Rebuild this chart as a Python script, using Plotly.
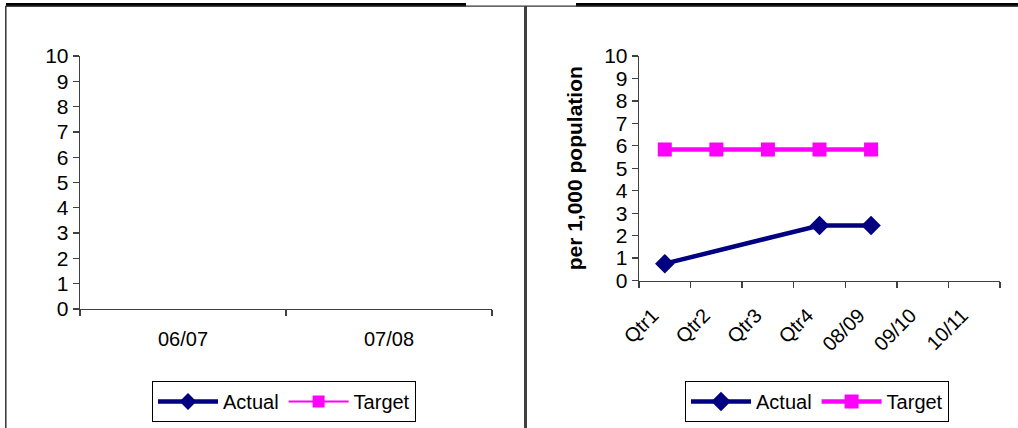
import plotly.graph_objects as go

# ---- data ----
left_categories = ["06/07", "07/08"]
left_actual = [None, None]
left_target = [None, None]

right_categories = ["Qtr1", "Qtr2", "Qtr3", "Qtr4", "08/09", "09/10", "10/11"]
right_actual = [0.75, None, None, 2.45, 2.45, None, None]
right_target = [5.83, 5.83, 5.83, 5.83, 5.83, None, None]

y_ticks = list(range(0, 11))

W, H = 1018, 428
NAVY = "#000080"
MAGENTA = "#FF00FF"
AXIS = "#404040"
FONT = "Liberation Sans, Arial, sans-serif"

def px(x):
    return x / W

def py(y):
    return 1 - y / H

fig = go.Figure()

# left chart
fig.add_trace(go.Scatter(x=left_categories, y=left_actual, name="Actual", mode="lines+markers",
                         line=dict(color=NAVY, width=4.5), marker=dict(symbol="diamond", size=13, color=NAVY),
                         xaxis="x", yaxis="y", legend="legend"))
fig.add_trace(go.Scatter(x=left_categories, y=left_target, name="Target", mode="lines+markers",
                         line=dict(color=MAGENTA, width=2), marker=dict(symbol="square", size=12, color=MAGENTA),
                         xaxis="x", yaxis="y", legend="legend"))

# right chart
fig.add_trace(go.Scatter(x=right_categories, y=right_actual, name="Actual", mode="lines+markers",
                         connectgaps=True,
                         line=dict(color=NAVY, width=4.5), marker=dict(symbol="diamond", size=15, color=NAVY),
                         xaxis="x2", yaxis="y2", legend="legend2"))
fig.add_trace(go.Scatter(x=right_categories, y=right_target, name="Target", mode="lines+markers",
                         connectgaps=True,
                         line=dict(color=MAGENTA, width=4.5), marker=dict(symbol="square", size=14, color=MAGENTA),
                         xaxis="x2", yaxis="y2", legend="legend2"))

xtickfont = dict(family=FONT, size=20, color="black")
ytickfont = dict(family=FONT, size=21, color="black")

common_x = dict(type="category", showgrid=False, zeroline=False, showline=True, linecolor=AXIS, linewidth=1.3,
                ticks="outside", ticklen=6, tickcolor=AXIS, tickwidth=1.3, tickson="boundaries",
                tickfont=xtickfont, fixedrange=True, automargin=False)
common_y = dict(range=[0, 10], tickvals=y_ticks, showgrid=False, zeroline=False, showline=True, linecolor=AXIS,
                linewidth=1.3, ticks="outside", ticklen=6, tickcolor=AXIS, tickwidth=1.3, tickfont=ytickfont,
                fixedrange=True, automargin=False)

legend_style = dict(orientation="h", xanchor="left", yanchor="top",
                    bordercolor="black", borderwidth=1, bgcolor="white",
                    font=dict(family=FONT, size=20, color="black"), itemwidth=60,
                    traceorder="normal")

fig.update_layout(
    width=W, height=H,
    margin=dict(l=0, r=0, t=0, b=0, pad=0, autoexpand=False),
    paper_bgcolor="white", plot_bgcolor="white",
    font=dict(family=FONT, color="black"),
    xaxis=dict(domain=[px(80), px(492)], anchor="y", categoryorder="array",
               categoryarray=left_categories, range=[-0.5, 1.5], tickangle=0,
               ticklabelstandoff=12, **common_x),
    yaxis=dict(domain=[py(309), py(56)], anchor="x", **common_y),
    xaxis2=dict(domain=[px(639), px(1000)], anchor="y2", categoryorder="array",
                categoryarray=right_categories, range=[-0.5, 6.5], tickangle=-45,
                ticklabelstandoff=14, ticklabelshift=-12, **common_x),
    yaxis2=dict(domain=[py(280.5), py(56)], anchor="x2",
                title=dict(text="<b>per 1,000 population</b>", font=dict(family=FONT, size=21, color="black"),
                           standoff=15),
                **common_y),
    legend=dict(x=px(152), y=py(381), **legend_style),
    legend2=dict(x=px(685), y=py(381), **legend_style),
    shapes=[
        # top thick rules
        dict(type="line", xref="paper", yref="paper", x0=px(6), x1=px(466), y0=py(4.7), y1=py(4.7),
             line=dict(color="black", width=3.5)),
        dict(type="line", xref="paper", yref="paper", x0=px(576), x1=px(1018), y0=py(4.7), y1=py(4.7),
             line=dict(color="black", width=3.5)),
        # panel top border
        dict(type="line", xref="paper", yref="paper", x0=px(5.5), x1=px(1018), y0=py(6.2), y1=py(6.2),
             line=dict(color="#333333", width=1.2)),
        # left panel border
        dict(type="line", xref="paper", yref="paper", x0=px(5.8), x1=px(5.8), y0=py(6), y1=py(428),
             line=dict(color="#333333", width=1.5)),
        # divider
        dict(type="line", xref="paper", yref="paper", x0=px(525.5), x1=px(525.5), y0=py(6), y1=py(428),
             line=dict(color="#404040", width=3)),
    ],
)

fig.write_html("out.html",
               config={"displayModeBar": False, "staticPlot": True},
               post_script="document.body.style.margin='0';document.body.style.overflow='hidden';")
